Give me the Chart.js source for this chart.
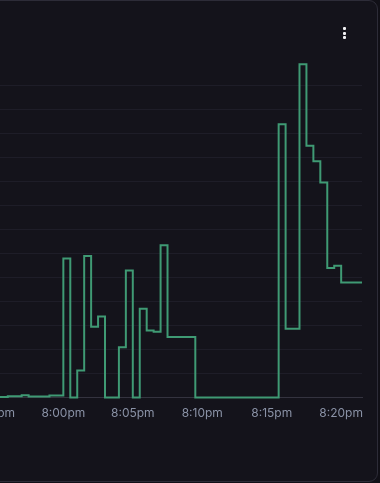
<!DOCTYPE html>
<html>
<head>
<meta charset="utf-8">
<script src="https://cdn.jsdelivr.net/npm/chart.js@4/dist/chart.umd.min.js"></script>
<style>
    html, body {
        margin: 0;
        padding: 0;
        width: 380px;
        height: 483px;
        overflow: hidden;
        background: #111017;
    }
    .card {
        position: absolute;
        left: -30px;
        top: 0;
        width: 408px;
        height: 482px;
        box-sizing: border-box;
        background: #14131b;
        border: 1px solid #2d2c38;
        border-radius: 9px;
    }
    .menu {
        position: absolute;
        left: 343px;
        top: 27px;
        width: 4px;
    }
    .menu span {
        display: block;
        width: 3px;
        height: 3px;
        margin-bottom: 1.7px;
        background: #f2f2f5;
        border-radius: 1px;
    }
    #chart {
        position: absolute;
        left: -60px;
        top: 0;
    }
</style>
</head>
<body>
<div class="card"></div>
<div class="menu"><span></span><span></span><span></span></div>
<canvas id="chart" width="440" height="440"></canvas>
<script>
// minutes relative to 8:00pm, one sample every 30s
const minutes = [
    -6, -5.5, -5, -4.5, -4, -3.5, -3, -2.5, -2, -1.5, -1, -0.5,
    0, 0.5, 1, 1.5, 2, 2.5, 3, 3.5, 4, 4.5, 5, 5.5, 6, 6.5, 7, 7.5,
    8, 8.5, 9, 9.5, 10, 10.5, 11, 11.5, 12, 12.5, 13, 13.5, 14, 14.5,
    15, 15.5, 16, 16.5, 17, 17.5, 18, 18.5, 19, 19.5, 20, 20.5, 21, 21.5
];
const values = [
    0.3, 0.3, 0.3, 0.3, 0.6, 0.6, 1.0, 0.5, 0.5, 0.5, 0.9, 0.9,
    58, 0, 11.3, 59, 29.5, 33.8, 0, 0, 21, 53, 0, 37, 28, 27.5, 63.5, 25.3,
    25.3, 25.3, 25.3, 0, 0, 0, 0, 0, 0, 0, 0, 0, 0, 0,
    0, 114, 28.7, 28.7, 139, 105, 98.5, 89.7, 54, 55, 48, 48, 48, 48
];
const tickMinutes = [-5, 0, 5, 10, 15, 20];
const tickLabels = ['7:55pm', '8:00pm', '8:05pm', '8:10pm', '8:15pm', '8:20pm'];

Chart.defaults.font.family = 'Inter, "Noto Sans", sans-serif';
Chart.defaults.font.size = 12;

const ctx = document.getElementById('chart');
const chart = new Chart(ctx, {
    type: 'line',
    data: {
        datasets: [{
            data: minutes.map((m, i) => ({ x: m, y: values[i] })),
            borderColor: '#3f9a74',
            borderWidth: 2,
            pointRadius: 0,
            stepped: true,
            fill: false,
            clip: 2
        }]
    },
    options: {
        responsive: false,
        animation: false,
        layout: {
            padding: { left: 40, right: 18, top: 63, bottom: 10 }
        },
        plugins: {
            legend: { display: false },
            tooltip: { enabled: false }
        },
        scales: {
            x: {
                type: 'linear',
                min: -6,
                max: 21.5,
                grid: { display: false, drawTicks: false },
                border: { display: true, color: '#34333f', width: 1 },
                afterBuildTicks: (scale) => {
                    scale.ticks = tickMinutes.map(v => ({ value: v }));
                },
                ticks: {
                    color: '#8a92a6',
                    padding: 9,
                    maxRotation: 0,
                    autoSkip: false,
                    callback: (value, index) => tickLabels[index]
                }
            },
            y: {
                min: 0,
                max: 139.5,
                grid: { color: '#1e1d28', lineWidth: 1, drawTicks: false },
                border: { display: false },
                ticks: {
                    display: false,
                    stepSize: 10,
                    includeBounds: false
                }
            }
        }
    }
});
</script>
</body>
</html>
